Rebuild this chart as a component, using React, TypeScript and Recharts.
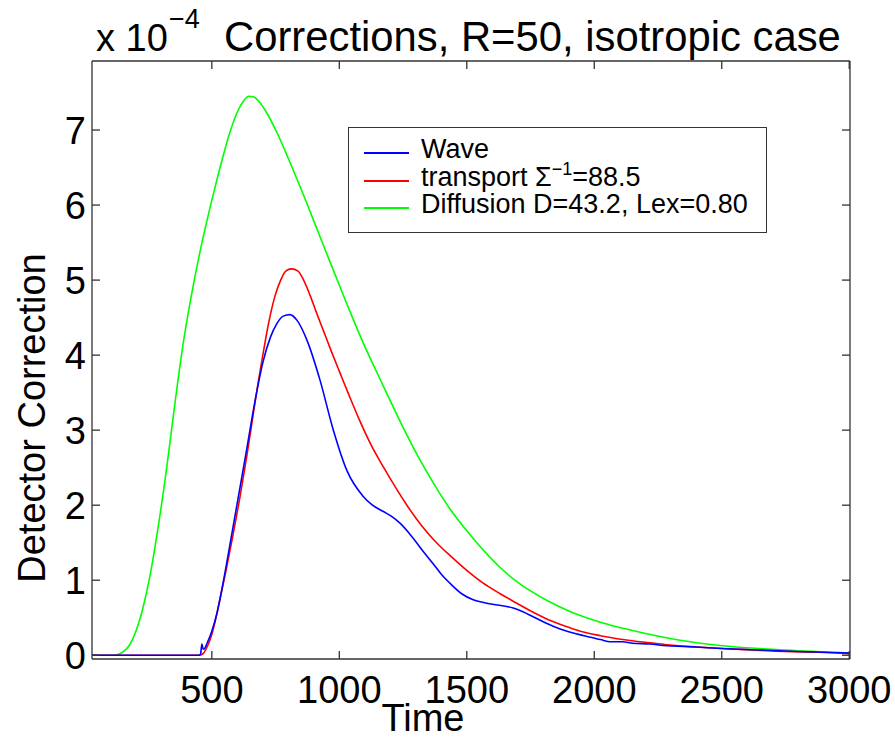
import { LineChart, Line, XAxis, YAxis, Legend } from "recharts";

// time samples and values (x 1e-4)
const waveT = [30, 450, 456, 461, 466, 472, 480, 500, 520, 545, 575, 605, 637, 669, 700, 730, 755, 780, 806, 835, 873, 924, 975, 1030, 1093, 1130, 1171, 1205, 1238, 1285, 1330, 1368, 1400, 1434, 1480, 1525, 1570, 1620, 1682, 1720, 1762, 1810, 1866, 1960, 2024, 2063, 2110, 2150, 2220, 2270, 2400, 2500, 2650, 2800, 3003];
const waveV = [0, 0, 0.02, 0.15, 0.08, 0.09, 0.15, 0.32, 0.56, 0.98, 1.55, 2.13, 2.75, 3.38, 3.9, 4.24, 4.42, 4.52, 4.54, 4.46, 4.2, 3.67, 3.02, 2.46, 2.12, 2.0, 1.92, 1.85, 1.76, 1.58, 1.38, 1.22, 1.08, 0.96, 0.82, 0.74, 0.7, 0.67, 0.63, 0.58, 0.51, 0.43, 0.35, 0.26, 0.21, 0.18, 0.18, 0.16, 0.15, 0.13, 0.11, 0.09, 0.07, 0.05, 0.03];

const transportT = [30, 450, 465, 480, 500, 515, 531, 555, 583, 610, 637, 661, 680, 700, 720, 747, 770, 790, 812, 838, 860, 885, 910, 936, 970, 1003, 1040, 1081, 1125, 1171, 1220, 1265, 1300, 1344, 1390, 1434, 1500, 1560, 1631, 1682, 1762, 1830, 1893, 1945, 2024, 2090, 2155, 2208, 2286, 2400, 2500, 2620, 2750, 2880, 3003];
const transportV = [0, 0, 0.02, 0.1, 0.28, 0.48, 0.73, 1.12, 1.6, 2.1, 2.65, 3.18, 3.6, 4.0, 4.38, 4.78, 5.0, 5.12, 5.15, 5.12, 5.0, 4.8, 4.57, 4.34, 4.04, 3.76, 3.45, 3.12, 2.8, 2.52, 2.24, 2.0, 1.83, 1.64, 1.47, 1.33, 1.13, 0.97, 0.82, 0.72, 0.57, 0.46, 0.38, 0.32, 0.26, 0.22, 0.19, 0.17, 0.14, 0.11, 0.09, 0.07, 0.05, 0.04, 0.02];

const diffusionT = [30, 110, 130, 150, 178, 200, 229, 257, 290, 323, 355, 386, 420, 450, 480, 510, 540, 570, 600, 625, 645, 665, 690, 720, 759, 800, 873, 924, 971, 1042, 1089, 1171, 1238, 1304, 1368, 1434, 1500, 1631, 1700, 1815, 1900, 2024, 2150, 2337, 2494, 2750, 3003];
const diffusionV = [0, 0, 0.01, 0.04, 0.14, 0.3, 0.62, 1.05, 1.72, 2.5, 3.35, 4.12, 4.8, 5.32, 5.78, 6.2, 6.6, 6.96, 7.24, 7.39, 7.45, 7.44, 7.36, 7.2, 6.94, 6.62, 6.02, 5.58, 5.18, 4.58, 4.2, 3.6, 3.12, 2.68, 2.3, 1.95, 1.66, 1.17, 0.97, 0.73, 0.59, 0.44, 0.33, 0.2, 0.13, 0.07, 0.03];

const xTicks = [500, 1000, 1500, 2000, 2500, 3000];
const yTicks = [0, 1, 2, 3, 4, 5, 6, 7];

const seriesNames = ["Wave", "transport", "Diffusion D=43.2, Lex=0.80"];
const seriesColors = ["#0000ff", "#ff0000", "#00ff00"];

const toPoints = (ts: number[], vs: number[]) => ts.map((t, i) => ({ t, v: vs[i] }));
const wave = toPoints(waveT, waveV);
const transport = toPoints(transportT, transportV);
const diffusion = toPoints(diffusionT, diffusionV);

const FONT = '"Liberation Sans", Arial, Helvetica, sans-serif';
const AXIS = "#333";
const X_DOMAIN: [number, number] = [30, 3003];
const Y_DOMAIN: [number, number] = [-0.05, 7.92];
const tickFont = { fontSize: 38, fill: "#000", fontFamily: FONT };
const axisStroke = { stroke: AXIS, strokeWidth: 1.3 };

// tick-only axes draw just the inward tick marks of the box
const NoTick = () => null;

function TimeLabel({ viewBox }: any) {
  return (
    <text x={viewBox.x + viewBox.width / 2 - 48} y={viewBox.y + 72} textAnchor="middle" fontSize={38} fontFamily={FONT} fill="#000">
      Time
    </text>
  );
}

function CorrectionLabel({ viewBox }: any) {
  const cx = 45;
  const cy = viewBox.y + viewBox.height / 2 + 58;
  return (
    <text x={cx} y={cy} transform={`rotate(-90, ${cx}, ${cy})`} textAnchor="middle" fontSize={38} fontFamily={FONT} fill="#000">
      Detector Correction
    </text>
  );
}

function legendLabel(i: number) {
  if (i === 1) {
    return (
      <>
        transport Σ<span style={{ fontSize: 18, position: "relative", top: -11 }}>−1</span>=88.5
      </>
    );
  }
  return seriesNames[i];
}

function LegendBox() {
  const rowY = [25, 53, 80];
  return (
    <div
      style={{
        width: 419,
        height: 106,
        border: `1px solid ${AXIS}`,
        boxSizing: "border-box",
        background: "#fff",
        position: "relative",
        fontFamily: FONT,
        fontSize: 27,
        color: "#000",
      }}
    >
      {rowY.map((cy, i) => (
        <div key={i}>
          <div style={{ position: "absolute", left: 15, top: cy - 1, width: 45, height: 1.5, background: seriesColors[i] }} />
          <div style={{ position: "absolute", left: 72, top: cy - 18, lineHeight: "28px", whiteSpace: "nowrap" }}>
            {legendLabel(i)}
          </div>
        </div>
      ))}
    </div>
  );
}

export default function App() {
  return (
    <div style={{ position: "absolute", left: 0, top: 0, width: 895, height: 738, background: "#fff", fontFamily: FONT }}>
      <LineChart width={895} height={738} margin={{ top: 61, right: 45, bottom: 0, left: 0 }}>
        {/* labelled axes */}
        <XAxis
          dataKey="t"
          type="number"
          domain={X_DOMAIN}
          allowDataOverflow
          ticks={xTicks}
          interval={0}
          height={79}
          tickLine={false}
          tickSize={0}
          tickMargin={17}
          tick={tickFont}
          axisLine={axisStroke}
          label={<TimeLabel />}
        />
        <YAxis
          type="number"
          domain={Y_DOMAIN}
          allowDataOverflow
          ticks={yTicks}
          interval={0}
          width={92}
          tickLine={false}
          tickSize={0}
          tickMargin={6}
          tick={tickFont}
          axisLine={axisStroke}
          label={<CorrectionLabel />}
        />
        {/* inward ticks on all four sides */}
        <XAxis xAxisId="bt" orientation="bottom" dataKey="t" type="number" domain={X_DOMAIN} allowDataOverflow ticks={xTicks} interval={0} mirror height={1} tick={<NoTick />} tickSize={8} tickLine={axisStroke} axisLine={false} />
        <XAxis xAxisId="top" orientation="top" dataKey="t" type="number" domain={X_DOMAIN} allowDataOverflow ticks={xTicks} interval={0} mirror height={1} tick={<NoTick />} tickSize={8} tickLine={axisStroke} axisLine={axisStroke} />
        <YAxis yAxisId="lt" orientation="left" type="number" domain={Y_DOMAIN} allowDataOverflow ticks={yTicks} interval={0} mirror width={1} tick={<NoTick />} tickSize={8} tickLine={axisStroke} axisLine={false} />
        <YAxis yAxisId="right" orientation="right" type="number" domain={Y_DOMAIN} allowDataOverflow ticks={yTicks} interval={0} mirror width={1} tick={<NoTick />} tickSize={8} tickLine={axisStroke} axisLine={axisStroke} />
        <Legend
          layout="vertical"
          align="center"
          verticalAlign="middle"
          wrapperStyle={{ left: 348, top: 127, width: 419, height: 106 }}
          content={<LegendBox />}
        />
        {/* invisible carriers so the tick-only axes have data */}
        <Line data={diffusion} dataKey="v" xAxisId="top" yAxisId="right" stroke="none" legendType="none" dot={false} activeDot={false} isAnimationActive={false} />
        <Line data={diffusion} dataKey="v" xAxisId="bt" yAxisId="lt" stroke="none" legendType="none" dot={false} activeDot={false} isAnimationActive={false} />
        <Line data={diffusion} dataKey="v" name={seriesNames[2]} type="monotone" stroke={seriesColors[2]} strokeWidth={1.6} dot={false} activeDot={false} isAnimationActive={false} />
        <Line data={transport} dataKey="v" name={seriesNames[1]} type="monotone" stroke={seriesColors[1]} strokeWidth={1.6} dot={false} activeDot={false} isAnimationActive={false} />
        <Line data={wave} dataKey="v" name={seriesNames[0]} type="monotone" stroke={seriesColors[0]} strokeWidth={1.6} dot={false} activeDot={false} isAnimationActive={false} />
      </LineChart>
      <svg width={895} height={738} style={{ position: "absolute", left: 0, top: 0, pointerEvents: "none" }}>
        <text x={96} y={51} fontSize={38} fontFamily={FONT} fill="#000">x 10</text>
        <text x={169} y={28} fontSize={27} fontFamily={FONT} fill="#000">−4</text>
        <text x={224} y={51} fontSize={41.8} fontFamily={FONT} fill="#000">Corrections, R=50, isotropic case</text>
      </svg>
    </div>
  );
}
